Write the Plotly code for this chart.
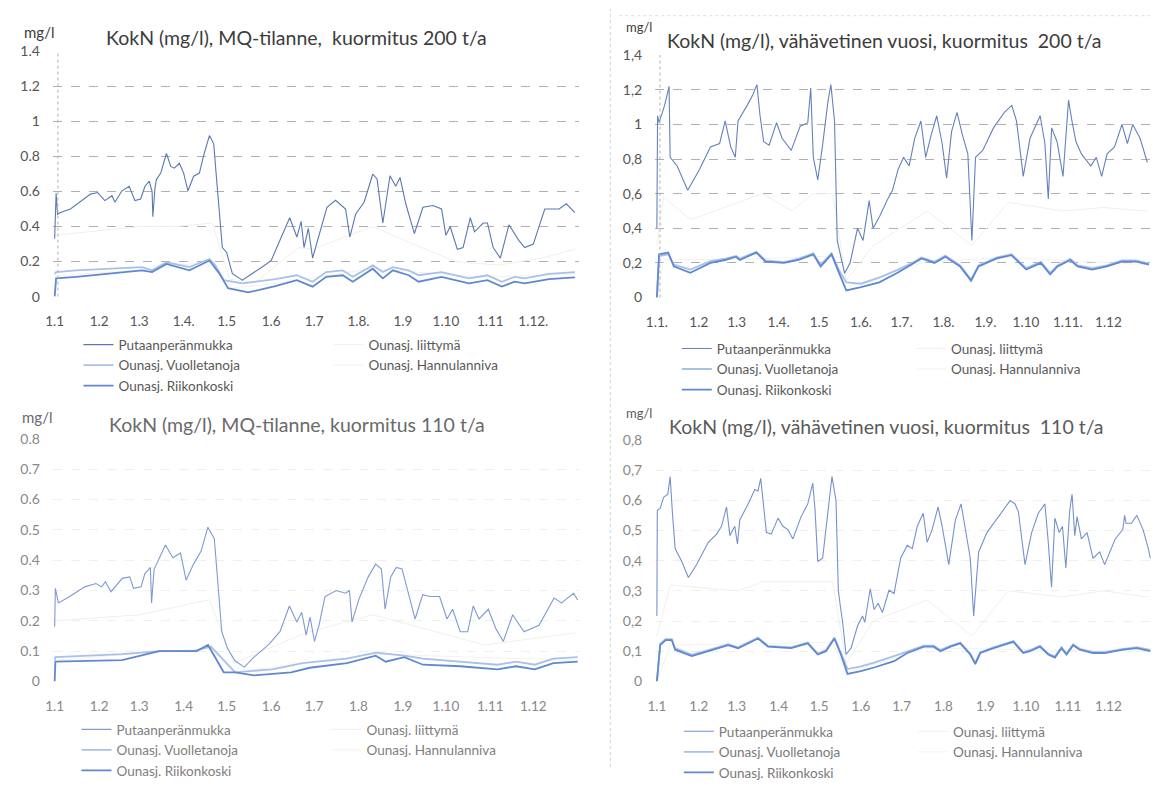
import plotly.graph_objects as go

W, H = 1171, 788

# ---------------- data (day of year, mg/l) ----------------
MONTH_DAYS = [0, 31, 59, 90, 120, 151, 181, 212, 243, 273, 304, 334]
XLABELS_TL = ["1.1", "1.2", "1.3", "1.4.", "1.5", "1.6", "1.7", "1.8.", "1.9", "1.10", "1.11", "1.12."]
XLABELS_TR = ["1.1.", "1.2", "1.3", "1.4.", "1.5", "1.6.", "1.7.", "1.8.", "1.9.", "1.10", "1.11.", "1.12"]
XLABELS_B = ["1.1", "1.2", "1.3", "1.4", "1.5", "1.6", "1.7", "1.8", "1.9", "1.10", "1.11", "1.12"]

YTICKS_TOP = [0, 0.2, 0.4, 0.6, 0.8, 1.0, 1.2, 1.4]
YLABELS_TL = ["0", "0.2", "0.4", "0.6", "0.8", "1", "1.2", "1.4"]
YLABELS_TR = ["0", "0,2", "0,4", "0,6", "0,8", "1", "1,2", "1,4"]
YTICKS_BOT = [0, 0.1, 0.2, 0.3, 0.4, 0.5, 0.6, 0.7, 0.8]
YLABELS_BL = ["0", "0.1", "0.2", "0.3", "0.4", "0.5", "0.6", "0.7", "0.8"]
YLABELS_BR = ["0", "0,1", "0,2", "0,3", "0,4", "0,5", "0,6", "0,7", "0,8"]

SERIES = ["Putaanperänmukka", "Ounasj. liittymä", "Ounasj. Vuolletanoja",
          "Ounasj. Hannulanniva", "Ounasj. Riikonkoski"]

TITLES = ["KokN (mg/l), MQ-tilanne,  kuormitus 200 t/a",
          "KokN (mg/l), vähävetinen vuosi, kuormitus  200 t/a",
          "KokN (mg/l), MQ-tilanne, kuormitus 110 t/a",
          "KokN (mg/l), vähävetinen vuosi, kuormitus  110 t/a"]

# Top-left: MQ, 200 t/a
TL_PUT = [(0, 0.33), (1, 0.59), (2, 0.47), (4, 0.48), (11, 0.50), (18, 0.54), (25, 0.585), (30, 0.594),
          (35, 0.548), (40, 0.576), (42, 0.539), (47, 0.604), (52, 0.63), (56, 0.548), (60, 0.557),
          (63, 0.63), (66, 0.659), (68, 0.60), (68.5, 0.456), (70, 0.62), (71, 0.668), (74, 0.705),
          (78, 0.817), (81, 0.743), (83.5, 0.733), (87, 0.761), (90, 0.705), (93, 0.604), (97, 0.687),
          (101, 0.705), (104, 0.807), (108, 0.919), (111, 0.872), (113, 0.668), (117, 0.28), (120, 0.252),
          (124, 0.131), (131, 0.094), (138, 0.131), (144.5, 0.168), (151, 0.205), (155, 0.28), (164, 0.45),
          (169, 0.34), (172, 0.43), (174, 0.28), (177, 0.39), (180, 0.22), (184, 0.34), (190, 0.51),
          (196, 0.55), (203, 0.50), (206, 0.34), (210, 0.47), (216, 0.54), (222, 0.70), (225, 0.67),
          (229, 0.42), (234, 0.69), (238, 0.63), (241, 0.68), (245, 0.53), (251, 0.36), (257, 0.51),
          (264, 0.52), (270, 0.50), (273, 0.35), (276, 0.40), (281, 0.27), (285, 0.28), (290, 0.45),
          (293, 0.37), (299, 0.42), (302, 0.42), (306, 0.28), (311, 0.22), (317, 0.41), (324, 0.32),
          (328, 0.28), (334, 0.30), (342, 0.50), (352, 0.50), (357, 0.53), (363, 0.48)]
TL_LII = [(0, 0.35), (35, 0.38), (60, 0.40), (85, 0.40), (110, 0.42), (122, 0.10), (140, 0.08),
          (170, 0.28), (180, 0.27), (222, 0.40), (250, 0.30), (280, 0.20), (310, 0.18), (340, 0.22), (363, 0.27)]
TL_VUO = [(0, 0.13), (1, 0.14), (15, 0.15), (38, 0.16), (61, 0.168), (68, 0.15), (78, 0.196), (94, 0.168),
          (108, 0.215), (112, 0.18), (118, 0.094), (131, 0.076), (154, 0.10), (169, 0.122), (180, 0.085),
          (189.5, 0.14), (201, 0.15), (208, 0.113), (222, 0.178), (229, 0.14), (236, 0.168), (247, 0.15),
          (254, 0.122), (270, 0.14), (289, 0.104), (302, 0.122), (312, 0.085), (321, 0.113), (328, 0.104),
          (345, 0.13), (363, 0.14)]
TL_HAN = [(0, 0.12), (60, 0.15), (108, 0.20), (125, 0.05), (150, 0.07), (222, 0.16), (300, 0.11), (363, 0.13)]
TL_RII = [(0, 0.0), (1, 0.104), (15, 0.113), (38, 0.131), (61, 0.15), (68, 0.14), (78, 0.187), (94, 0.15),
          (108, 0.206), (115, 0.131), (121, 0.048), (135, 0.024), (154, 0.06), (169, 0.094), (180, 0.057),
          (189.5, 0.113), (201, 0.122), (208, 0.085), (222, 0.159), (229, 0.104), (236, 0.15), (247, 0.122),
          (254, 0.085), (270, 0.113), (289, 0.076), (302, 0.094), (312, 0.057), (321, 0.085), (328, 0.076),
          (345, 0.10), (363, 0.11)]

# Top-right: dry year, 200 t/a
TR_PUT = [(0, 0.40), (0.5, 1.05), (1.6, 1.01), (5.7, 1.11), (8.4, 1.20), (9, 1.22), (9.8, 0.81), (15, 0.76),
          (22.8, 0.62), (31.5, 0.74), (39.6, 0.87), (46.4, 0.89), (50.5, 1.02), (54.6, 0.87), (58, 0.81),
          (60, 1.02), (66.8, 1.11), (70.9, 1.17), (74, 1.23), (76.3, 1.05), (79, 0.90), (83, 0.88),
          (88.5, 1.01), (92.6, 0.92), (99.4, 0.85), (106, 0.99), (111.6, 1.01), (113.8, 1.21), (115.7, 0.81),
          (119, 0.68), (122.4, 0.87), (126.5, 1.13), (128.7, 1.23), (131.4, 1.02), (133.4, 0.33),
          (135.3, 0.26), (138.8, 0.14), (142.9, 0.20), (148.4, 0.40), (152.5, 0.33), (157, 0.56),
          (159.9, 0.40), (164.8, 0.47), (170.2, 0.56), (174.3, 0.62), (178.4, 0.74), (182.5, 0.81),
          (186.6, 0.76), (190.7, 0.92), (195.3, 1.02), (198.8, 0.81), (202.9, 0.94), (207, 1.05),
          (211, 0.89), (214.3, 0.69), (218, 0.96), (222, 1.07), (226, 0.94), (230, 0.83), (233, 0.33),
          (235.7, 0.81), (241, 0.85), (249, 0.98), (257, 1.07), (262.5, 1.11), (266, 1.02), (271, 0.70),
          (276, 0.92), (283.5, 1.05), (287, 0.89), (289.5, 0.57), (292, 0.98), (296, 0.90), (300.4, 0.70),
          (304.5, 1.14), (307, 1.02), (310, 0.90), (314, 0.83), (321, 0.76), (325, 0.81), (329, 0.70),
          (333, 0.83), (338.5, 0.87), (344, 1.00), (348, 0.89), (352, 1.00), (357.4, 0.92), (362.8, 0.78)]
TR_LII = [(0, 0.30), (5, 0.58), (25, 0.45), (60, 0.55), (78, 0.60), (100, 0.50), (115, 0.60), (130, 0.60),
          (140, 0.10), (160, 0.30), (200, 0.50), (233, 0.30), (260, 0.55), (300, 0.50), (330, 0.52), (363, 0.50)]
TR_VUO = [(0, 0.0), (1.6, 0.24), (8.4, 0.25), (12.5, 0.19), (24.7, 0.162), (39.6, 0.21), (50.5, 0.225),
          (58.6, 0.24), (61.3, 0.225), (73.6, 0.265), (80.3, 0.215), (94, 0.205), (104.8, 0.225),
          (115.7, 0.255), (121.1, 0.19), (129.2, 0.255), (134.7, 0.16), (140.1, 0.088), (151, 0.08),
          (164.5, 0.115), (178, 0.16), (186.3, 0.19), (195.8, 0.232), (205.3, 0.207), (213.4, 0.242),
          (224.3, 0.186), (232.4, 0.105), (237.9, 0.186), (251.5, 0.232), (262.3, 0.25), (273.2, 0.17),
          (284, 0.207), (290.9, 0.142), (296.3, 0.186), (305.8, 0.224), (311.2, 0.186), (322, 0.17),
          (332.9, 0.186), (343.8, 0.214), (354.7, 0.214), (364, 0.196)]
TR_HAN = [(0, 0.0), (5, 0.22), (60, 0.22), (130, 0.24), (140, 0.06), (200, 0.21), (260, 0.23), (363, 0.19)]
TR_RII = [(0, 0.0), (1.6, 0.25), (8.4, 0.26), (12.5, 0.18), (24.7, 0.143), (39.6, 0.20), (50.5, 0.217),
          (58.6, 0.236), (61.3, 0.217), (73.6, 0.26), (80.3, 0.208), (94, 0.20), (104.8, 0.217),
          (115.7, 0.25), (121.1, 0.18), (129.2, 0.25), (134.7, 0.143), (140.1, 0.041), (151, 0.06),
          (164.5, 0.088), (178, 0.143), (186.3, 0.18), (195.8, 0.226), (205.3, 0.20), (213.4, 0.236),
          (224.3, 0.18), (232.4, 0.097), (237.9, 0.18), (251.5, 0.226), (262.3, 0.245), (273.2, 0.162),
          (284, 0.20), (290.9, 0.134), (296.3, 0.18), (305.8, 0.217), (311.2, 0.18), (322, 0.162),
          (332.9, 0.18), (343.8, 0.208), (354.7, 0.208), (364, 0.19)]

# Bottom-left: MQ, 110 t/a
BL_PUT = [(0, 0.18), (0.5, 0.307), (2.6, 0.259), (10.5, 0.28), (21, 0.312), (28.8, 0.323), (32.8, 0.312),
          (35.4, 0.329), (39.3, 0.296), (47.2, 0.34), (52.4, 0.345), (55, 0.307), (60.3, 0.312),
          (62.9, 0.355), (66.8, 0.376), (67.6, 0.259), (69.4, 0.37), (77.3, 0.45), (82.5, 0.408),
          (87.8, 0.424), (91.7, 0.334), (96.9, 0.387), (102.2, 0.43), (106.9, 0.509), (111.4, 0.471),
          (116.6, 0.164), (120.5, 0.11), (125.8, 0.068), (132.3, 0.047), (138.9, 0.079), (149.3, 0.121),
          (157.2, 0.164), (163.8, 0.249), (169, 0.196), (172.4, 0.228), (175.5, 0.153), (178.2, 0.212),
          (181.3, 0.132), (184.7, 0.19), (188.6, 0.28), (196.5, 0.30), (203, 0.291), (205.7, 0.30),
          (207.5, 0.196), (212.2, 0.27), (218.8, 0.345), (224, 0.387), (228, 0.371), (230.6, 0.238),
          (234.5, 0.345), (238.4, 0.376), (242.4, 0.371), (246.3, 0.30), (251.5, 0.206), (256.8, 0.286),
          (262, 0.28), (268.6, 0.28), (273.8, 0.206), (277.7, 0.238), (283, 0.164), (288.2, 0.164),
          (292.1, 0.249), (296.1, 0.206), (302.6, 0.238), (307.9, 0.174), (313.1, 0.132), (319.6, 0.22),
          (327.5, 0.164), (338, 0.185), (348.5, 0.275), (353.7, 0.259), (362, 0.291), (365, 0.269)]
BL_LII = [(0, 0.20), (60, 0.22), (108, 0.27), (125, 0.06), (175, 0.16), (222, 0.22), (300, 0.12), (363, 0.16)]
BL_VUO = [(0, 0.07), (0.5, 0.08), (47, 0.09), (73, 0.10), (97, 0.10), (109, 0.115), (126, 0.03), (152, 0.04),
          (173, 0.06), (191, 0.07), (204, 0.075), (224, 0.095), (244, 0.085), (257, 0.075), (283, 0.065),
          (309, 0.055), (322, 0.065), (335, 0.055), (348, 0.075), (365, 0.08)]
BL_HAN = [(0, 0.07), (108, 0.11), (125, 0.03), (222, 0.09), (363, 0.07)]
BL_RII = [(0, 0.0), (0.5, 0.065), (47, 0.07), (73, 0.10), (99, 0.10), (107, 0.12), (118, 0.03), (126, 0.03),
          (139, 0.02), (165, 0.03), (178, 0.045), (204, 0.06), (224, 0.085), (231, 0.065), (244, 0.08),
          (257, 0.055), (283, 0.05), (309, 0.04), (322, 0.05), (335, 0.04), (348, 0.06), (365, 0.065)]

# Bottom-right: dry year, 110 t/a
BR_PUT = [(0, 0.217), (0.3, 0.567), (2.45, 0.573), (4.9, 0.61), (8.1, 0.62), (9.8, 0.679), (11.5, 0.557),
          (13.5, 0.44), (18.4, 0.397), (23.3, 0.344), (29.4, 0.387), (38, 0.461), (44.2, 0.488),
          (47.8, 0.514), (51.5, 0.578), (54, 0.483), (57.6, 0.514), (59.6, 0.455), (61.3, 0.535),
          (67.5, 0.588), (72.4, 0.636), (74.8, 0.631), (76.8, 0.673), (78.5, 0.599), (81, 0.493),
          (84.6, 0.488), (89.6, 0.541), (93.2, 0.514), (96.9, 0.503), (100.6, 0.472), (106.7, 0.546),
          (111.6, 0.588), (115.3, 0.657), (117, 0.567), (119, 0.397), (122.6, 0.408), (126.3, 0.557),
          (129.5, 0.679), (132.5, 0.599), (134.2, 0.302), (135.7, 0.249), (137.4, 0.196), (139.9, 0.089),
          (143.6, 0.11), (148.5, 0.185), (152.1, 0.217), (153.8, 0.196), (157.8, 0.307), (160.7, 0.238),
          (163.6, 0.259), (166.8, 0.228), (171.7, 0.302), (175.4, 0.291), (180.3, 0.408), (185.2, 0.451),
          (188.9, 0.44), (192.6, 0.514), (197, 0.557), (199.9, 0.461), (203.6, 0.503), (208, 0.578),
          (211, 0.514), (215.9, 0.387), (220.8, 0.535), (225, 0.588), (228.1, 0.503), (231.8, 0.408),
          (234.3, 0.217), (238, 0.429), (244.1, 0.493), (252.7, 0.546), (261.3, 0.599), (264.9, 0.588),
          (267.4, 0.562), (272.3, 0.387), (277.2, 0.493), (282.1, 0.557), (287, 0.588), (289.5, 0.461),
          (291.9, 0.312), (294.4, 0.541), (297.6, 0.493), (300, 0.514), (302.5, 0.376), (305.4, 0.567),
          (307.1, 0.62), (309.1, 0.483), (310.8, 0.546), (314, 0.472), (318.2, 0.493), (322.6, 0.408),
          (327.5, 0.429), (331.2, 0.387), (339, 0.472), (344.6, 0.503), (346, 0.55), (347, 0.524),
          (351, 0.524), (355, 0.55), (359.6, 0.503), (363.5, 0.44), (365, 0.408)]
BR_LII = [(0, 0.15), (10, 0.32), (60, 0.30), (78, 0.33), (115, 0.33), (130, 0.33), (140, 0.06), (160, 0.20),
          (200, 0.27), (233, 0.15), (260, 0.30), (300, 0.28), (330, 0.30), (363, 0.28)]
BR_VUO = [(0, 0.0), (2.45, 0.125), (6.4, 0.14), (11, 0.14), (13.5, 0.11), (25.8, 0.089), (38, 0.104),
          (52.7, 0.123), (60.1, 0.113), (74.8, 0.145), (82.2, 0.118), (99.3, 0.113), (111.6, 0.129),
          (119, 0.092), (125.1, 0.104), (131.3, 0.145), (136.1, 0.095), (141, 0.041), (150.8, 0.05),
          (160.7, 0.062), (175.4, 0.084), (185.2, 0.10), (197.5, 0.118), (204.8, 0.118), (209.7, 0.104),
          (217.1, 0.118), (224.4, 0.129), (231.8, 0.092), (235.5, 0.062), (239.2, 0.097), (249, 0.113),
          (263.7, 0.134), (271, 0.097), (276, 0.104), (283.3, 0.118), (289.5, 0.092), (294.4, 0.083),
          (299.3, 0.113), (303, 0.092), (307.9, 0.123), (312.8, 0.108), (322.6, 0.097), (331.2, 0.097),
          (345, 0.108), (355, 0.113), (365, 0.104)]
BR_HAN = [(0, 0.0), (10, 0.12), (130, 0.13), (140, 0.03), (200, 0.11), (363, 0.10)]
BR_RII = [(0, 0.0), (2.45, 0.12), (6.4, 0.137), (11, 0.137), (13.5, 0.105), (25.8, 0.084), (38, 0.10),
          (52.7, 0.12), (60.1, 0.11), (74.8, 0.142), (82.2, 0.115), (99.3, 0.11), (111.6, 0.126),
          (119, 0.089), (125.1, 0.10), (131.3, 0.142), (136.1, 0.089), (141, 0.025), (150.8, 0.034),
          (160.7, 0.046), (175.4, 0.067), (185.2, 0.094), (197.5, 0.115), (204.8, 0.115), (209.7, 0.10),
          (217.1, 0.115), (224.4, 0.126), (231.8, 0.089), (235.5, 0.057), (239.2, 0.094), (249, 0.11),
          (263.7, 0.131), (271, 0.094), (276, 0.10), (283.3, 0.115), (289.5, 0.089), (294.4, 0.079),
          (299.3, 0.11), (303, 0.089), (307.9, 0.12), (312.8, 0.105), (322.6, 0.094), (331.2, 0.094),
          (345, 0.105), (355, 0.11), (365, 0.10)]

# ---------------- styling ----------------
def px_x(p):
    return p / W

def px_y(p):
    return 1 - p / H

PANELS = [
    dict(data=[TL_PUT, TL_LII, TL_VUO, TL_HAN, TL_RII], xl=XLABELS_TL, yt=YTICKS_TOP, yl=YLABELS_TL,
         yr=[0, 1.4], xd=[44, 574], yd=[299, 44], grid="#b0b0b0", tick="#555555",
         put_col="#5a78b0", title_xy=(290, 30), mg_xy=(30, 24), mg_size=15, tcol="#3c3c3c",
         leg_l=(70, 333), leg_r=(322, 333), lcol="#595959"),
    dict(data=[TR_PUT, TR_LII, TR_VUO, TR_HAN, TR_RII], xl=XLABELS_TR, yt=YTICKS_TOP, yl=YLABELS_TR,
         yr=[0, 1.4], xd=[651, 1151], yd=[300, 48], grid="#b0b0b0", tick="#555555",
         put_col="#6582bb", title_xy=(882, 33), mg_xy=(635, 19), mg_size=13, tcol="#3c3c3c",
         leg_l=(673, 337), leg_r=(909, 337), lcol="#595959"),
    dict(data=[BL_PUT, BL_LII, BL_VUO, BL_HAN, BL_RII], xl=XLABELS_B, yt=YTICKS_BOT, yl=YLABELS_BL,
         yr=[0, 0.8], xd=[44, 574], yd=[699, 447], grid="#efefef", tick="#888888",
         put_col="#7f9bcf", title_xy=(290, 432), mg_xy=(28, 424), mg_size=15, tcol="#6a6a6a",
         leg_l=(68, 733), leg_r=(320, 733), lcol="#808080"),
    dict(data=[BR_PUT, BR_LII, BR_VUO, BR_HAN, BR_RII], xl=XLABELS_B, yt=YTICKS_BOT, yl=YLABELS_BR,
         yr=[0, 0.8], xd=[651, 1151], yd=[699, 448], grid="#efefef", tick="#888888",
         put_col="#7592cc", title_xy=(884, 434), mg_xy=(635, 420), mg_size=13, tcol="#5a5a5a",
         leg_l=(675, 735), leg_r=(911, 735), lcol="#7a7a7a"),
]

LOW_LIGHT = "#a9c1e9"
LOW_DARK = "#5f88d0"
FAINT_1 = "#f3efe8"
FAINT_2 = "#f5f2ed"
FONT = "Lato"

fig = go.Figure()
layout = dict(width=W, height=H, margin=dict(l=0, r=0, t=0, b=0),
              paper_bgcolor="white", plot_bgcolor="white", showlegend=True,
              font=dict(family=FONT, color="#555555"))
annotations = []
shapes = []

for i, p in enumerate(PANELS):
    n = i + 1
    xa = "x" if n == 1 else f"x{n}"
    ya = "y" if n == 1 else f"y{n}"
    leg_left = "legend" if i == 0 else f"legend{2 * i + 1}"
    leg_right = f"legend{2 * i + 2}"
    colors = [p["put_col"], FAINT_1, LOW_LIGHT, FAINT_2, LOW_DARK]
    widths = [1.1, 1.0, 1.8, 1.0, 1.8]
    legs = [leg_left, leg_right, leg_left, leg_right, leg_left]
    order = [1, 3, 2, 4, 0]
    for k in order:
        pts = p["data"][k]
        fig.add_trace(go.Scatter(
            x=[d for d, _ in pts], y=[v for _, v in pts], mode="lines",
            name=SERIES[k], xaxis=xa, yaxis=ya, legend=legs[k],
            legendrank=[1, 1, 2, 2, 3][k],
            line=dict(color=colors[k], width=widths[k]),
            hoverinfo="skip"))
    xkey = "xaxis" if n == 1 else f"xaxis{n}"
    ykey = "yaxis" if n == 1 else f"yaxis{n}"
    layout[xkey] = dict(domain=[px_x(p["xd"][0]), px_x(p["xd"][1])], range=[-1.4, 365.6],
                        anchor=ya, tickvals=MONTH_DAYS, ticktext=p["xl"], showgrid=False,
                        zeroline=False, showline=False, ticks="outside", ticklen=12,
                        tickcolor="rgba(0,0,0,0)", tickfont=dict(size=13.5, color=p["tick"], family=FONT))
    layout[ykey] = dict(domain=[px_y(p["yd"][0]), px_y(p["yd"][1])], range=p["yr"],
                        anchor=xa, tickvals=p["yt"], ticktext=p["yl"], showgrid=True,
                        gridcolor=p["grid"], griddash="dash", gridwidth=1,
                        zeroline=False, showline=False, ticks="outside", ticklen=9,
                        tickcolor="rgba(0,0,0,0)", tickfont=dict(size=14, color=p["tick"], family=FONT))
    for lk, (lx, ly) in ((leg_left, p["leg_l"]), (leg_right, p["leg_r"])):
        layout[lk] = dict(x=px_x(lx), y=px_y(ly), xanchor="left", yanchor="top",
                          orientation="v", bgcolor="rgba(0,0,0,0)", borderwidth=0,
                          font=dict(size=13.5, color=p["lcol"], family=FONT),
                          tracegroupgap=0, itemwidth=30, traceorder="normal")
    annotations.append(dict(text=TITLES[i], x=px_x(p["title_xy"][0]), y=px_y(p["title_xy"][1]),
                            xref="paper", yref="paper", showarrow=False, xanchor="center",
                            yanchor="middle", font=dict(size=19.5, color=p["tcol"], family=FONT)))
    annotations.append(dict(text="mg/l", x=px_x(p["mg_xy"][0]), y=px_y(p["mg_xy"][1]),
                            xref="paper", yref="paper", showarrow=False, xanchor="center",
                            yanchor="middle", font=dict(size=p["mg_size"], color=p["tcol"], family=FONT)))
    if i < 2:
        shapes.append(dict(type="line", xref=f"{xa} domain", yref=f"{ya} domain", x0=0.01, x1=0.01,
                           y0=0, y1=1, line=dict(color="#b0b0b0", width=1, dash="dot")))

# page crease of the scan
shapes.append(dict(type="line", xref="paper", yref="paper", x0=px_x(606), x1=px_x(606), y0=0, y1=1,
                   line=dict(color="#d4d4d4", width=1, dash="dot")))
shapes.append(dict(type="line", xref="paper", yref="paper", x0=px_x(615), x1=px_x(1150),
                   y0=px_y(7), y1=px_y(7), line=dict(color="#dddddd", width=1, dash="dot")))

layout["annotations"] = annotations
layout["shapes"] = shapes
fig.update_layout(**layout)
fig.write_html("out.html")
